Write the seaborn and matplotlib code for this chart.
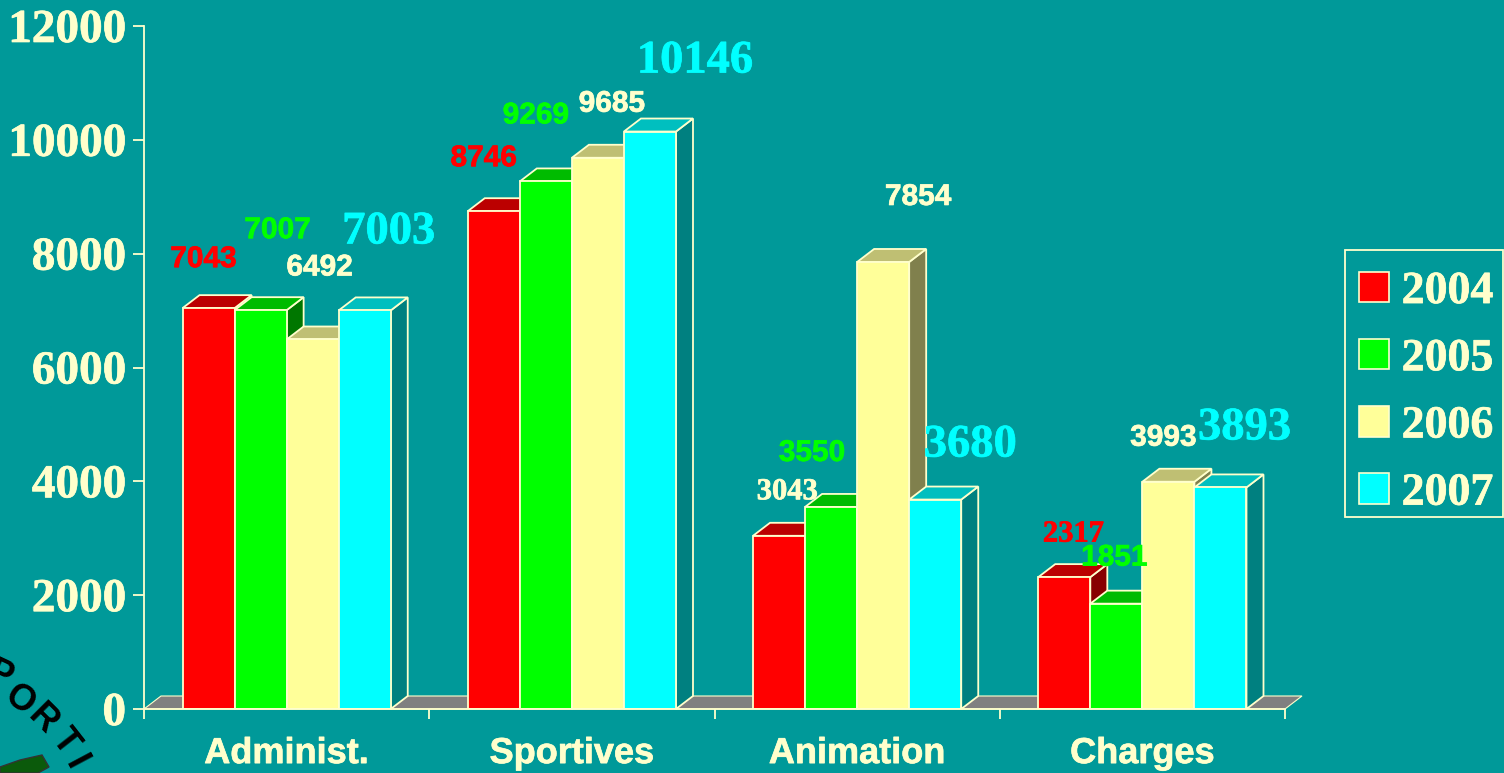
import pandas as pd
import matplotlib
matplotlib.use('Agg')
import matplotlib.pyplot as plt
import matplotlib.patheffects as pe
from matplotlib.patches import Patch, Polygon, Rectangle
import seaborn as sns

# values
categories = ['Administ.', 'Sportives', 'Animation', 'Charges']
years = ['2004', '2005', '2006', '2007']
v2004 = [7043, 8746, 3043, 2317]
v2005 = [7007, 9269, 3550, 1851]
v2006 = [6492, 9685, 7854, 3993]
v2007 = [7003, 10146, 3680, 3893]

teal = '#009999'
cream = '#FFFFCC'
front = ['#FF0000', '#00FF00', '#FFFF99', '#00FFFF']
top = ['#BB0000', '#00BB00', '#BFBF73', '#00BFBF']
side = ['#880000', '#007700', '#80804D', '#008080']
label_col = ['#FF0000', '#00FF00', cream, '#00FFFF']

SANS = 'Liberation Sans'
SERIF = 'Liberation Serif'
DX, DY = 17, 13  # depth of the fake 3d, pixels

# label offset from bar top centre (pixels), font, size and colour override, one row per year
label_style = [
    [(-5, 49, SANS, 21.5, None), (-10, 53, SANS, 21.5, None), (8, 44, SERIF, 22, cream), (9, 43, SERIF, 22, None)],
    [(17, 80, SANS, 21.5, None), (-10, 66, SANS, 21.5, None), (-19, 54, SANS, 21.5, None), (-2, 46, SANS, 21.5, None)],
    [(7, 72, SANS, 21.5, None), (14, 54, SANS, 21.5, None), (35, 65, SANS, 21.5, None), (-5, 44, SANS, 21.5, None)],
    [(24, 78, SERIF, 33.5, None), (45, 70, SERIF, 33.5, None), (35, 54, SERIF, 33.5, None), (24, 59, SERIF, 33.5, None)],
]

df = pd.DataFrame({
    'cat': categories * 4,
    'year': sum([[y] * 4 for y in years], []),
    'val': v2004 + v2005 + v2006 + v2007,
})

sns.set_style('white')
plt.rcParams['font.weight'] = 'bold'

W, H = 1504, 773
fig = plt.figure(figsize=(W / 100, H / 100), dpi=100, facecolor=teal)
ax = fig.add_axes([144 / W, 1 - 709 / H, (1285 - 144) / W, (709 - 26) / H], facecolor='none')

sns.barplot(data=df, x='cat', y='val', hue='year', order=categories, hue_order=years,
            palette=front, saturation=1, width=0.73, gap=0, errorbar=None, legend=False, ax=ax)
ax.set_xlim(-0.5, 3.5)
ax.set_ylim(0, 12000)
ax.set_xlabel('')
ax.set_ylabel('')

x_per_px = 4 / (1285 - 144)
y_per_px = 12000 / (709 - 26)
dx, dy = DX * x_per_px, DY * y_per_px
lw = 1.3


def heavy(t, color, width=0.5):
    # the original text is a bit fatter than Liberation bold
    t.set_path_effects([pe.withStroke(linewidth=width, foreground=color)])


# floor
ax.add_patch(Polygon([(-0.5, 0), (-0.5 + dx, dy), (3.5 + dx, dy), (3.5, 0)], closed=True,
                     facecolor='#808080', edgecolor=cream, lw=0.8, clip_on=False, zorder=1))

# fake 3d sides and tops, left to right so that each bar hides the one before
for j, cont in enumerate(ax.containers):
    for i, bar in enumerate(cont.patches):
        z = 2 + i * 10 + j
        x0, x1, h = bar.get_x(), bar.get_x() + bar.get_width(), bar.get_height()
        ax.add_patch(Polygon([(x1, 0), (x1 + dx, dy), (x1 + dx, h + dy), (x1, h)], closed=True,
                             facecolor=side[j], edgecolor=cream, lw=lw, clip_on=False, zorder=z))
        ax.add_patch(Polygon([(x0, h), (x0 + dx, h + dy), (x1 + dx, h + dy), (x1, h)], closed=True,
                             facecolor=top[j], edgecolor=cream, lw=lw, clip_on=False, zorder=z))
        bar.set_edgecolor(cream)
        bar.set_linewidth(lw)
        bar.set_zorder(z + 0.5)
        ox, oy, fam, size, col = label_style[j][i]
        col = col or label_col[j]
        t = ax.annotate(str(int(h)), (x0 + bar.get_width() / 2, h), xytext=(ox, oy),
                        textcoords='offset pixels', ha='center', va='center', color=col,
                        family=fam, fontsize=size, fontweight='bold', zorder=100)
        heavy(t, col)

sns.despine(ax=ax)
for s in ['left', 'bottom']:
    ax.spines[s].set_color(cream)
    ax.spines[s].set_linewidth(1.3)
    ax.spines[s].set_zorder(60)
ax.set_yticks(range(0, 12001, 2000))
ax.set_xticks([i - 0.5 for i in range(5)], minor=True)
ax.tick_params(axis='x', which='major', length=0, pad=19.5, labelcolor=cream)
ax.tick_params(axis='x', which='minor', length=7, width=1.3, color=cream, bottom=True)
ax.tick_params(axis='y', length=8, width=1.3, color=cream, left=True, pad=5, labelcolor=cream)
for t in ax.get_xticklabels():
    t.set_family(SANS)
    t.set_fontsize(26)
    t.set_fontweight('bold')
    heavy(t, cream)
for t in ax.get_yticklabels():
    t.set_family(SERIF)
    t.set_fontsize(34)
    t.set_fontweight('bold')
    heavy(t, cream)

# legend frame is drawn on its own, the entries sit a bit low in it
fig.add_artist(Rectangle((1345 / W, 1 - 517 / H), 158 / W, 267 / H, transform=fig.transFigure,
                         facecolor='none', edgecolor=cream, lw=1.3))
handles = [Patch(facecolor=c, edgecolor=cream, lw=1.2) for c in front]
leg = ax.legend(handles, years, loc='upper left', bbox_to_anchor=(1343 / W, 1 - 255 / H),
                bbox_transform=fig.transFigure, borderaxespad=0, frameon=False, labelcolor=cream,
                handlelength=0.65, handleheight=0.65, handletextpad=0.28, borderpad=0.35,
                labelspacing=0.55, prop={'family': SERIF, 'size': 33, 'weight': 'bold'})
leg.set_zorder(100)
for t in leg.get_texts():
    heavy(t, cream)

# piece of the logo in the bottom corner
fig.add_artist(Polygon([(0 / W, 1 - 767 / H), (20 / W, 1 - 760 / H), (42 / W, 1 - 755 / H),
                        (49 / W, 1 - 767 / H), (38 / W, 1 - 773 / H), (0 / W, 1 - 773 / H)], closed=True,
                       transform=fig.transFigure, facecolor='#0B5A0B', edgecolor='#333333', lw=1))
for ch, px, py, rot in [('P', 0, 675, -25), ('O', 19, 700, -35), ('R', 43, 719, -45),
                        ('T', 65, 742, -52), ('I', 75, 763, -62)]:
    fig.text(px / W, 1 - py / H, ch, color='black', family=SANS, fontsize=26, fontweight='bold',
             rotation=rot, ha='center', va='center', rotation_mode='anchor')

fig.savefig('out.png', dpi=100, facecolor=teal)
